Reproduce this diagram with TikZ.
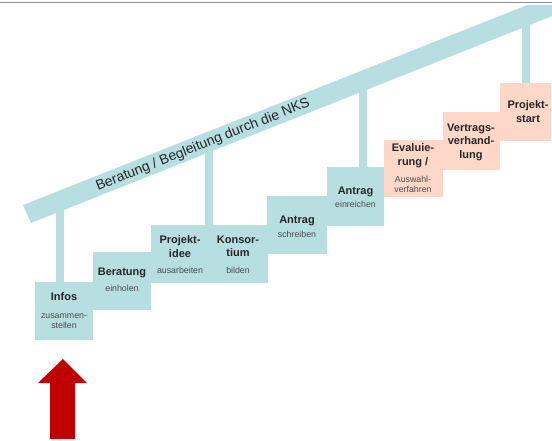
\documentclass[tikz,border=0pt]{standalone}
\usepackage{fontspec}
\setmainfont{Liberation Sans}

\definecolor{stepblue}{RGB}{183,223,226}
\definecolor{stepsalmon}{RGB}{253,216,200}
\definecolor{arrowred}{RGB}{192,0,0}

\tikzset{every picture/.style={line width=0.35pt}}
\tikzset{
  stepbox/.style={fill=stepblue},
  laterbox/.style={fill=stepsalmon},
  post/.style={draw=stepblue, line width=8pt},
  steptitle/.style={font=\fontsize{11}{13.5}\selectfont\bfseries, text=black!85, align=center, inner sep=0pt},
  stepsub/.style={font=\fontsize{8.8}{10.5}\selectfont, text=black!70, align=center, inner sep=0pt}
}

\begin{document}
\begin{tikzpicture}[x=1pt,y=1pt,yscale=-1]
  \useasboundingbox (0,0) rectangle (552,441);

  % thin rule at the top
  \draw [line width=1.6pt, gray!90] (0,2.5) -- (552,2.5);

  % posts
  \draw [post] (60,282) -- (60,205);
  \draw [post] (209,225) -- (209,150);
  \draw [post] (363,167) -- (363,85);
  \draw [post] (526,83) -- (526,15);

  % rail
  \begin{scope}
    \clip (0,6) rectangle (552,441);
    \fill [stepblue] (23,205) -- (31,223) -- (560,13) -- (560,-8) -- cycle;
  \end{scope}
  \node (rail) [font=\fontsize{14}{16}\selectfont, text=black!85, rotate=21.7, inner sep=0pt] at (203,145) {Beratung / Begleitung durch die NKS};

  % steps
  \fill [stepbox]  (35,282) rectangle (93,340);
  \fill [stepbox]  (93,252) rectangle (151,310);
  \fill [stepbox]  (151,225) rectangle (208,283);
  \fill [stepbox]  (208,225) rectangle (268,283);
  \fill [stepbox]  (267,196) rectangle (327,254);
  \fill [stepbox]  (327,167) rectangle (384,226);
  \fill [laterbox] (384,140) rectangle (443,197);
  \fill [laterbox] (443,112) rectangle (500,170);
  \fill [laterbox] (500,83) rectangle (551,141);

  \node (infos)      [steptitle] at (64,297)    {Infos};
  \node (infossub)   [stepsub]   at (64,321)    {zusammen-\\stellen};
  \node (beratung)   [steptitle] at (122,273)   {Beratung};
  \node (beratsub)   [stepsub]   at (122,288)   {einholen};
  \node (idee)       [steptitle] at (180,246.5) {Projekt-\\idee};
  \node (ideesub)    [stepsub]   at (180,270)   {ausarbeiten};
  \node (konsortium) [steptitle] at (238,246.5) {Konsor-\\tium};
  \node (konssub)    [stepsub]   at (238,270)   {bilden};
  \node (schreiben)  [steptitle] at (297,221)   {Antrag};
  \node (schrsub)    [stepsub]   at (297,234)   {schreiben};
  \node (einreichen) [steptitle] at (355.5,192) {Antrag};
  \node (einrsub)    [stepsub]   at (355.5,204) {einreichen};
  \node (evaluierung)[steptitle] at (413,155.5) {Evaluie-\\rung /};
  \node (evalsub)    [stepsub]   at (413,184.5) {Auswahl-\\verfahren};
  \node (vertrag)    [steptitle] at (471,142)   {Vertrags-\\verhand-\\lung};
  \node (start)      [steptitle] at (528,111.5) {Projekt-\\start};

  % start arrow
  \fill [arrowred] (50,439) -- (50,383) -- (38,383) -- (63,359) -- (87,383) -- (75,383) -- (75,439) -- cycle;
\end{tikzpicture}
\end{document}
